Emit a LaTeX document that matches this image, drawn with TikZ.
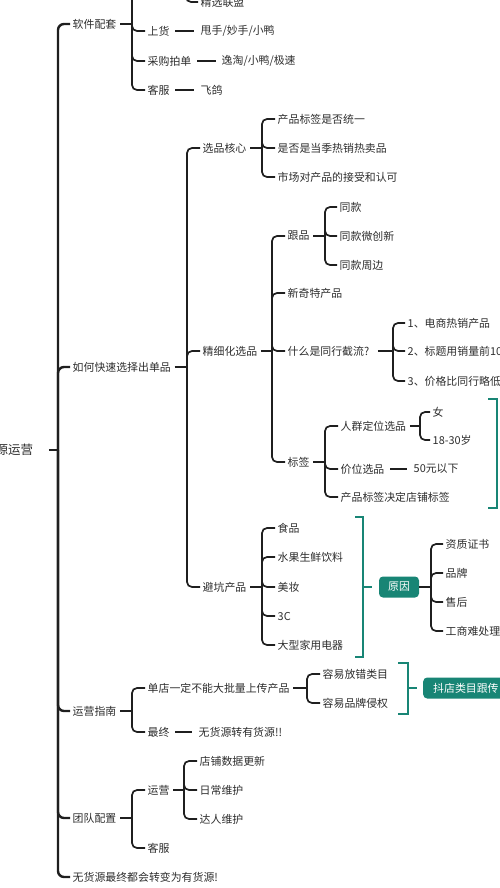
\documentclass[tikz,border=0pt]{standalone}
\usepackage{fontspec}
\setmainfont{Noto Sans CJK SC}
\usetikzlibrary{positioning}
\definecolor{mapteal}{RGB}{24,133,117}
\definecolor{maptext}{RGB}{45,45,45}
\newcommand\kids[2]{\foreach \k in {#2} \draw[br] (#1) |- ([xshift=-2pt]\k.west);}
\newcommand\stub[2]{\draw[br] ([xshift=3pt]#1.east) -- (#2);}
\begin{document}
\begin{tikzpicture}[x=1pt,y=-1pt,
  every node/.style={anchor=west,inner sep=0.5pt,text=maptext,font=\fontsize{10.9}{12}\selectfont},
  br/.style={line width=1.7pt,draw=black!88,rounded corners=5pt},
  trunk/.style={line width=2.4pt,draw=black!88,rounded corners=6pt},
  brk/.style={line width=1.7pt,draw=mapteal},
  tagbox/.style={fill=mapteal,text=white,rounded corners=4pt,minimum height=21pt,inner xsep=7pt}]
\useasboundingbox (0,0) rectangle (500,888);
\clip (0,0) rectangle (500,888);
\node (root) at (-5,450) [font=\fontsize{12.5}{14}\selectfont] {源运营};
\coordinate (m0) at (58,450);
\node (soft) at (72,24) {软件配套};
\node (howpick) at (72,367) {如何快速选择出单品};
\node (guide) at (72,711) {运营指南};
\node (team) at (72,818) {团队配置};
\node (final) at (72,877) {无货源最终都会转变为有货源!};
\draw[trunk] ([xshift=15pt]root.east) -- (m0);
\foreach \k in {soft,howpick,guide,team,final} \draw[trunk] (m0) |- ([xshift=-2pt]\k.west);
\coordinate (s0) at (132,24);
\node (alliance) at (200,2) {精选联盟};
\node (goods) at (147,31) {上货};
\node (goodstool) at (200,31) {甩手/妙手/小鸭};
\node (buy) at (147,61) {采购拍单};
\node (buytool) at (221,61) {逸淘/小鸭/极速};
\node (svc) at (147,90) {客服};
\node (svctool) at (200,90) {飞鸽};
\stub{soft}{s0}
\draw[br] (s0) -- (132,-20);
\kids{s0}{goods,buy,svc}
\draw[br] (186,-20) |- ([xshift=-2pt]alliance.west);
\draw[br] ([xshift=5pt]goods.east) -- ([xshift=-6pt]goodstool.west);
\draw[br] ([xshift=5pt]buy.east) -- ([xshift=-5pt]buytool.west);
\draw[br] ([xshift=5pt]svc.east) -- ([xshift=-6pt]svctool.west);
\coordinate (h0) at (187,367);
\node (core) at (202,148) {选品核心};
\node (fine) at (202,351) {精细化选品};
\node (avoid) at (202,587) {避坑产品};
\stub{howpick}{h0}
\kids{h0}{core,fine,avoid}
\coordinate (c0) at (262,148);
\node (c1) at (277,119) {产品标签是否统一};
\node (c2) at (277,148) {是否是当季热销热卖品};
\node (c3) at (277,177) {市场对产品的接受和认可};
\stub{core}{c0}
\kids{c0}{c1,c2,c3}
\coordinate (f0) at (272,351);
\node (follow) at (287,236) {跟品};
\node (novel) at (287,293) {新奇特产品};
\node (cut) at (287,351) {什么是同行截流?};
\node (label) at (287,462) {标签};
\stub{fine}{f0}
\kids{f0}{follow,novel,cut,label}
\coordinate (fl0) at (325,236);
\node (same1) at (339,207) {同款};
\node (same2) at (339,236) {同款微创新};
\node (same3) at (339,265) {同款周边};
\stub{follow}{fl0}
\kids{fl0}{same1,same2,same3}
\coordinate (cu0) at (393,351);
\node (cut1) at (407,323) {1、电商热销产品};
\node (cut2) at (407,351) {2、标题用销量前10};
\node (cut3) at (407,381) {3、价格比同行略低};
\draw[br] ([xshift=8pt]cut.east) -- (cu0);
\kids{cu0}{cut1,cut2,cut3}
\coordinate (l0) at (325,462);
\node (crowd) at (340,426) {人群定位选品};
\node (price) at (340,469) {价位选品};
\node (tagshop) at (340,497) {产品标签决定店铺标签};
\stub{label}{l0}
\kids{l0}{crowd,price,tagshop}
\coordinate (cr0) at (420,426);
\node (female) at (432,412) {女};
\node (age) at (432,440) {18-30岁};
\stub{crowd}{cr0}
\kids{cr0}{female,age}
\node (cheap) at (413,469) {50元以下};
\draw[br] ([xshift=5pt]price.east) -- ([xshift=-6pt]cheap.west);
\draw[brk] (488,399) -- (497,399) -- (497,508) -- (488,508);
\coordinate (a0) at (262,587);
\node (food) at (277,528) {食品};
\node (fruit) at (277,557) {水果生鲜饮料};
\node (beauty) at (277,587) {美妆};
\node (digital) at (277,616) {3C};
\node (appliance) at (277,645) {大型家用电器};
\stub{avoid}{a0}
\kids{a0}{food,fruit,beauty,digital,appliance}
\coordinate (ab0) at (363,587);
\draw[brk] (355,517) -- (363,517) -- (363,657) -- (355,657);
\node (reason) at (399,587) [tagbox,anchor=center,minimum width=40pt] {原因};
\draw[brk] (ab0) -- ([xshift=-7pt]reason.west);
\coordinate (r0) at (431,587);
\node (cert) at (445,544) {资质证书};
\node (brand) at (445,573) {品牌};
\node (after) at (445,602) {售后};
\node (bureau) at (445,631) {工商难处理};
\draw[br] (reason.east) -- (r0);
\kids{r0}{cert,brand,after,bureau}
\coordinate (g0) at (132,711);
\node (single) at (147,688) {单店一定不能大批量上传产品};
\node (last) at (147,732) {最终};
\stub{guide}{g0}
\kids{g0}{single,last}
\coordinate (sg0) at (307,688);
\node (wrongcat) at (322,674) {容易放错类目};
\node (infringe) at (322,703) {容易品牌侵权};
\stub{single}{sg0}
\kids{sg0}{wrongcat,infringe}
\coordinate (gb0) at (408,688);
\draw[brk] (398,663) -- (408,663) -- (408,714) -- (398,714);
\node (catrule) at (423,688) [tagbox,inner xsep=10pt] {抖店类目跟传};
\draw[brk] (gb0) -- ([xshift=-6pt]catrule.west);
\node (turn) at (198,732) {无货源转有货源!!};
\draw[br] ([xshift=5pt]last.east) -- ([xshift=-6pt]turn.west);
\coordinate (t0) at (132,818);
\node (ops) at (147,790) {运营};
\node (cs) at (147,848) {客服};
\stub{team}{t0}
\kids{t0}{ops,cs}
\coordinate (o0) at (184,790);
\node (shopdata) at (199,761) {店铺数据更新};
\node (daily) at (199,790) {日常维护};
\node (talent) at (199,819) {达人维护};
\stub{ops}{o0}
\kids{o0}{shopdata,daily,talent}
\end{tikzpicture}
\end{document}
